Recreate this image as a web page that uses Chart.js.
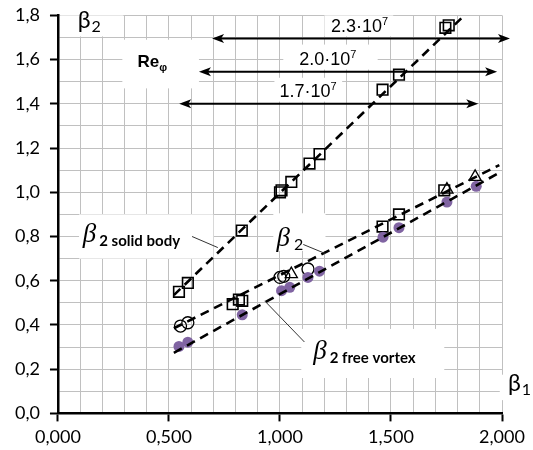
<!DOCTYPE html>
<html>
<head>
<meta charset="utf-8">
<script src="https://cdn.jsdelivr.net/npm/chart.js@4/dist/chart.umd.min.js"></script>
<style>
  html, body { margin: 0; padding: 0; background: #fff; }
  #wrap { width: 533px; height: 450px; }
</style>
</head>
<body>
<div id="wrap"><canvas id="chart"></canvas></div>
<script>
// β2 solid body (squares on the steep line)
const solidX = [0.545, 0.585, 0.828, 1.000, 1.007, 1.051, 1.133, 1.178, 1.462, 1.536, 1.745, 1.760]
const solidY = [0.550, 0.590, 0.827, 1.000, 1.009, 1.047, 1.130, 1.173, 1.464, 1.532, 1.744, 1.755]

// measured β2, three Re values
const squareX = [0.787, 0.815, 0.830, 1.462, 1.536, 1.740]
const squareY = [0.494, 0.515, 0.509, 0.845, 0.900, 1.009]
const circleX = [0.552, 0.585, 1.000, 1.017, 1.126]
const circleY = [0.395, 0.410, 0.615, 0.620, 0.653]
const triX    = [1.051, 1.752, 1.879]
const triY    = [0.630, 1.012, 1.070]

// β2 free vortex
const freeX = [0.545, 0.585, 0.830, 1.007, 1.044, 1.126, 1.178, 1.464, 1.536, 1.752, 1.884]
const freeY = [0.303, 0.322, 0.446, 0.555, 0.570, 0.615, 0.643, 0.797, 0.840, 0.956, 1.027]

// dashed trend lines (end points)
const lineSolidX = [0.522, 1.827], lineSolidY = [0.535, 1.797]
const lineMidX   = [0.522, 1.988], lineMidY   = [0.385, 1.123]
const lineFreeX  = [0.522, 1.987], lineFreeY  = [0.274, 1.088]

// Re arrows
const reLabels    = ['2.3·10', '2.0·10', '1.7·10']
const reArrowY    = [1.695, 1.545, 1.400]
const reArrowFrom = [0.694, 0.635, 0.546]
const reArrowTo   = [2.036, 1.978, 1.893]

const xTickLabels = ['0,000', '0,500', '1,000', '1,500', '2,000']
const yTickLabels = ['0,0', '0,2', '0,4', '0,6', '0,8', '1,0', '1,2', '1,4', '1,6', '1,8']

const zip = (xs, ys) => xs.map((x, i) => ({ x, y: ys[i] }))

const PURPLE = '#8064A2'
const GRID   = '#c0c0c0'
const SANS   = 'Lato, "Open Sans", sans-serif'
const ARIAL  = '"Liberation Sans", Arial, sans-serif'
const SERIF  = '"Liberation Serif", "DejaVu Serif", serif'

function line(data) {
  return {
    data, showLine: true, pointRadius: 0, borderColor: '#000', borderWidth: 2.6,
    borderDash: [9, 6], fill: false, order: 0
  }
}

function runs(ctx, x, y, parts) {
  let cx = x
  parts.forEach(p => {
    ctx.font = p.font
    ctx.fillText(p.text, cx, y + (p.dy || 0))
    cx += ctx.measureText(p.text).width + (p.gap || 0)
  })
}

function arrowHead(ctx, x, y, dir) {
  ctx.beginPath()
  ctx.moveTo(x, y)
  ctx.lineTo(x - dir * 12, y - 4.5)
  ctx.lineTo(x - dir * 9, y)
  ctx.lineTo(x - dir * 12, y + 4.5)
  ctx.closePath()
  ctx.fill()
}

// white boxes behind the labels: [x0, yTop, x1, yBottom] in data units
const boxes = [
  [0.010, 1.800, 0.295, 1.705],
  [0.290, 1.690, 0.635, 1.470],
  [1.200, 1.800, 1.510, 1.705],
  [1.015, 1.668, 1.440, 1.555],
  [0.975, 1.518, 1.280, 1.410],
  [0.095, 0.900, 0.700, 0.700],
  [0.970, 0.905, 1.205, 0.735],
  [1.096, 0.382, 1.740, 0.160],
  [1.990, 0.175, 2.200, 0.060]
]

const labelsPlugin = {
  id: 'labels',
  beforeDatasetsDraw(chart) {
    const { ctx, scales: { x, y } } = chart
    ctx.save()
    ctx.fillStyle = '#fff'
    boxes.forEach(([x0, y0, x1, y1]) => {
      const px0 = x.getPixelForValue(x0), py0 = y.getPixelForValue(y0)
      ctx.fillRect(px0, py0, x.getPixelForValue(x1) - px0, y.getPixelForValue(y1) - py0)
    })
    ctx.restore()
  },
  afterDatasetsDraw(chart) {
    const { ctx, scales: { x, y } } = chart
    const P = (a, b) => [x.getPixelForValue(a), y.getPixelForValue(b)]
    ctx.save()
    ctx.fillStyle = '#000'
    ctx.strokeStyle = '#000'
    ctx.textBaseline = 'alphabetic'

    // arrows + Re labels
    const labelX = [1.230, 1.087, 0.998]
    reLabels.forEach((txt, i) => {
      const [x0, yy] = P(reArrowFrom[i], reArrowY[i])
      const [x1] = P(reArrowTo[i], reArrowY[i])
      ctx.lineWidth = 2
      ctx.beginPath()
      ctx.moveTo(x0 + 6, yy)
      ctx.lineTo(x1 - 6, yy)
      ctx.stroke()
      arrowHead(ctx, x0, yy, -1)
      arrowHead(ctx, x1, yy, 1)
      const [tx] = P(labelX[i], 0)
      runs(ctx, tx, yy - 7, [
        { text: txt, font: '18px ' + ARIAL },
        { text: '7', font: '11px ' + ARIAL, dy: -7 }
      ])
    })

    // axis titles
    let p = P(0.089, 1.745)
    runs(ctx, p[0], p[1], [
      { text: 'β', font: '23px ' + SANS, gap: 1 },
      { text: '2', font: '16px ' + SANS, dy: 4 }
    ])
    p = P(2.027, 0.100)
    runs(ctx, p[0], p[1], [
      { text: 'β', font: '23px ' + SANS, gap: 1 },
      { text: '1', font: '16px ' + SANS, dy: 4 }
    ])
    p = P(0.358, 1.568)
    runs(ctx, p[0], p[1], [
      { text: 'Re', font: 'bold 17px ' + ARIAL },
      { text: 'φ', font: 'bold 11px ' + ARIAL, dy: 4 }
    ])

    // curve labels
    p = P(0.112, 0.773)
    runs(ctx, p[0], p[1], [
      { text: 'β', font: 'italic 27px ' + SERIF, gap: 3 },
      { text: '2 solid body', font: 'bold 15px ' + SANS, dy: 4 }
    ])
    p = P(0.984, 0.755)
    runs(ctx, p[0], p[1], [
      { text: 'β', font: 'italic 27px ' + SERIF, gap: 4 },
      { text: '2', font: '16px ' + SANS, dy: 4 }
    ])
    p = P(1.150, 0.245)
    runs(ctx, p[0], p[1], [
      { text: 'β', font: 'italic 27px ' + SERIF, gap: 3 },
      { text: '2 free vortex', font: 'bold 15px ' + SANS, dy: 4 }
    ])

    // leader lines
    ctx.strokeStyle = '#333'
    ctx.lineWidth = 1
    ;[[0.604, 0.800, 0.720, 0.750], [1.105, 0.764, 1.204, 0.723], [0.931, 0.509, 1.110, 0.323]]
      .forEach(([a, b, c, d]) => {
        const s = P(a, b), e = P(c, d)
        ctx.beginPath()
        ctx.moveTo(s[0], s[1])
        ctx.lineTo(e[0], e[1])
        ctx.stroke()
      })
    ctx.restore()
  }
}

const isMajor = (v, step) => Math.abs(v / step - Math.round(v / step)) < 1e-6

new Chart(document.getElementById('chart'), {
  type: 'scatter',
  data: {
    datasets: [
      line(zip(lineSolidX, lineSolidY)),
      line(zip(lineMidX, lineMidY)),
      line(zip(lineFreeX, lineFreeY)),
      { data: zip(freeX, freeY), pointStyle: 'circle', pointRadius: 5.5,
        backgroundColor: PURPLE, borderColor: PURPLE, borderWidth: 0, order: 1 },
      { data: zip(triX, triY), pointStyle: 'triangle', pointRadius: 7,
        backgroundColor: 'rgba(255,255,255,0)', borderColor: '#000', borderWidth: 1.3, order: 2 },
      { data: zip(circleX, circleY), pointStyle: 'circle', pointRadius: 6,
        backgroundColor: 'rgba(255,255,255,0)', borderColor: '#000', borderWidth: 1.3, order: 3 },
      { data: zip(squareX, squareY), pointStyle: 'rect', pointRadius: 7.5,
        backgroundColor: 'rgba(255,255,255,0)', borderColor: '#000', borderWidth: 1.6, order: 4 },
      { data: zip(solidX, solidY), pointStyle: 'rect', pointRadius: 7.5,
        backgroundColor: 'rgba(255,255,255,0)', borderColor: '#000', borderWidth: 1.6, order: 4 }
    ]
  },
  options: {
    responsive: true,
    maintainAspectRatio: false,
    animation: false,
    events: [],
    layout: { padding: { left: 5, right: 31, top: 8, bottom: -3 } },
    plugins: { legend: { display: false }, tooltip: { enabled: false } },
    scales: {
      x: {
        type: 'linear', min: 0, max: 2,
        border: { color: '#000', width: 2.5 },
        grid: {
          color: GRID, lineWidth: 1, tickLength: 8,
          tickColor: c => isMajor(c.tick.value, 0.5) ? '#000' : 'rgba(0,0,0,0)',
          tickWidth: 2
        },
        ticks: {
          stepSize: 0.1, autoSkip: false, maxRotation: 0, padding: 5,
          color: '#000', font: { family: SANS, size: 18 },
          callback: v => isMajor(v, 0.5) ? xTickLabels[Math.round(v / 0.5)] : ''
        }
      },
      y: {
        type: 'linear', min: 0, max: 1.8,
        border: { color: '#000', width: 2.5 },
        grid: {
          color: GRID, lineWidth: 1, tickLength: 8,
          tickColor: c => isMajor(c.tick.value, 0.2) ? '#000' : 'rgba(0,0,0,0)',
          tickWidth: 2
        },
        ticks: {
          stepSize: 0.1, autoSkip: false, padding: 10,
          color: '#000', font: { family: SANS, size: 18, lineHeight: 0.6 },
          callback: v => isMajor(v, 0.2) ? yTickLabels[Math.round(v / 0.2)] : ''
        }
      }
    }
  },
  plugins: [labelsPlugin]
})
</script>
</body>
</html>
